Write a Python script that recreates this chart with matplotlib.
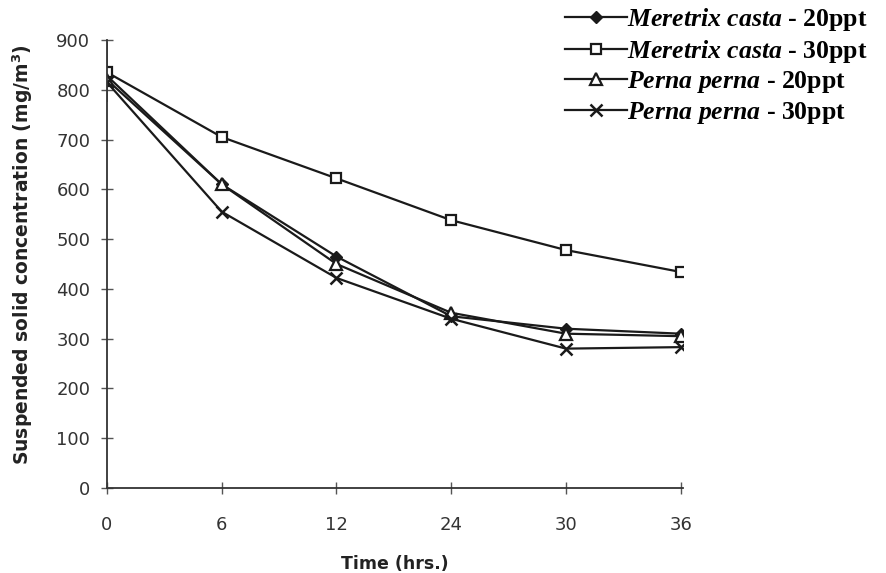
import matplotlib
matplotlib.use("Agg")
import matplotlib.pyplot as plt
import numpy as np

time_labels = ["0", "6", "12", "24", "30", "36"]
mc20 = [828, 610, 465, 345, 320, 310]
mc30 = [835, 705, 622, 538, 478, 434]
pp20 = [820, 610, 450, 352, 310, 305]
pp30 = [815, 555, 422, 340, 280, 283]
mc30_err = [60, 0, 0, 0, 0, 0]

plt.rcParams['mathtext.fontset'] = 'custom'
plt.rcParams['mathtext.it'] = 'Liberation Serif:italic:bold'
plt.rcParams['mathtext.rm'] = 'Liberation Serif:bold'
plt.rcParams['mathtext.bf'] = 'Liberation Serif:bold'
plt.rcParams['mathtext.sf'] = 'DejaVu Sans:bold'

fig = plt.figure(figsize=(8.87, 5.73), dpi=100)
ax = fig.add_axes([107/887, 1-488/573, (683-107)/887, (488-40)/573])
x = np.arange(len(time_labels))
ink = "#1a1a1a"
lw = 1.6
h1, = ax.plot(x, mc20, color=ink, lw=lw, marker='D', ms=6, mfc=ink, mec=ink)
ax.errorbar(x, mc30, yerr=mc30_err, fmt='none', ecolor='#555555', elinewidth=1.2, capsize=0)
h2, = ax.plot(x, mc30, color=ink, lw=lw, marker='s', ms=7, mfc='white', mec=ink, mew=1.6)
h3, = ax.plot(x, pp20, color=ink, lw=lw, marker='^', ms=8, mfc='white', mec=ink, mew=1.6)
h4, = ax.plot(x, pp30, color=ink, lw=lw, marker='x', ms=9, mec=ink, mew=1.8)

ax.set_xlim(0, 5.02)
ax.set_ylim(0, 900)
ax.set_xticks(x)
ax.set_xticklabels(time_labels)
ax.set_yticks(np.arange(0, 901, 100))
for s in ['top', 'right']:
    ax.spines[s].set_visible(False)
for s in ['left', 'bottom']:
    ax.spines[s].set_color('#333333')
    ax.spines[s].set_linewidth(1.3)
ax.tick_params(axis='both', direction='inout', length=8, width=1.0, color='#555555',
               labelsize=13, labelcolor='#333333')
ax.tick_params(axis='x', pad=16)
ax.tick_params(axis='y', pad=8)
for lab in ax.get_xticklabels() + ax.get_yticklabels():
    lab.set_family('DejaVu Sans')

ax.set_ylabel("Suspended solid concentration (mg/m$^{\\mathsf{3}}$)", fontsize=13.5,
              fontweight='bold', family='DejaVu Sans', color='#222222')
ax.yaxis.set_label_coords(-0.125, 0.52)
ax.set_xlabel("Time (hrs.)", fontsize=12.5, fontweight='bold', family='DejaVu Sans',
              color='#222222', labelpad=15)

labels = [r"$\it{Meretrix\ casta}$ - 20ppt", r"$\it{Meretrix\ casta}$ - 30ppt",
          r"$\it{Perna\ perna}$ - 20ppt", r"$\it{Perna\ perna}$ - 30ppt"]
leg = fig.legend([h1, h2, h3, h4], labels, loc='upper left',
                 bbox_to_anchor=(551/887, 1+8/573), frameon=False,
                 prop={'family': 'Liberation Serif', 'weight': 'bold', 'size': 18.5},
                 handlelength=2.4, handletextpad=0.0, labelspacing=0.18, borderaxespad=0.15)

fig.savefig("out.png", dpi=100, facecolor='white')
